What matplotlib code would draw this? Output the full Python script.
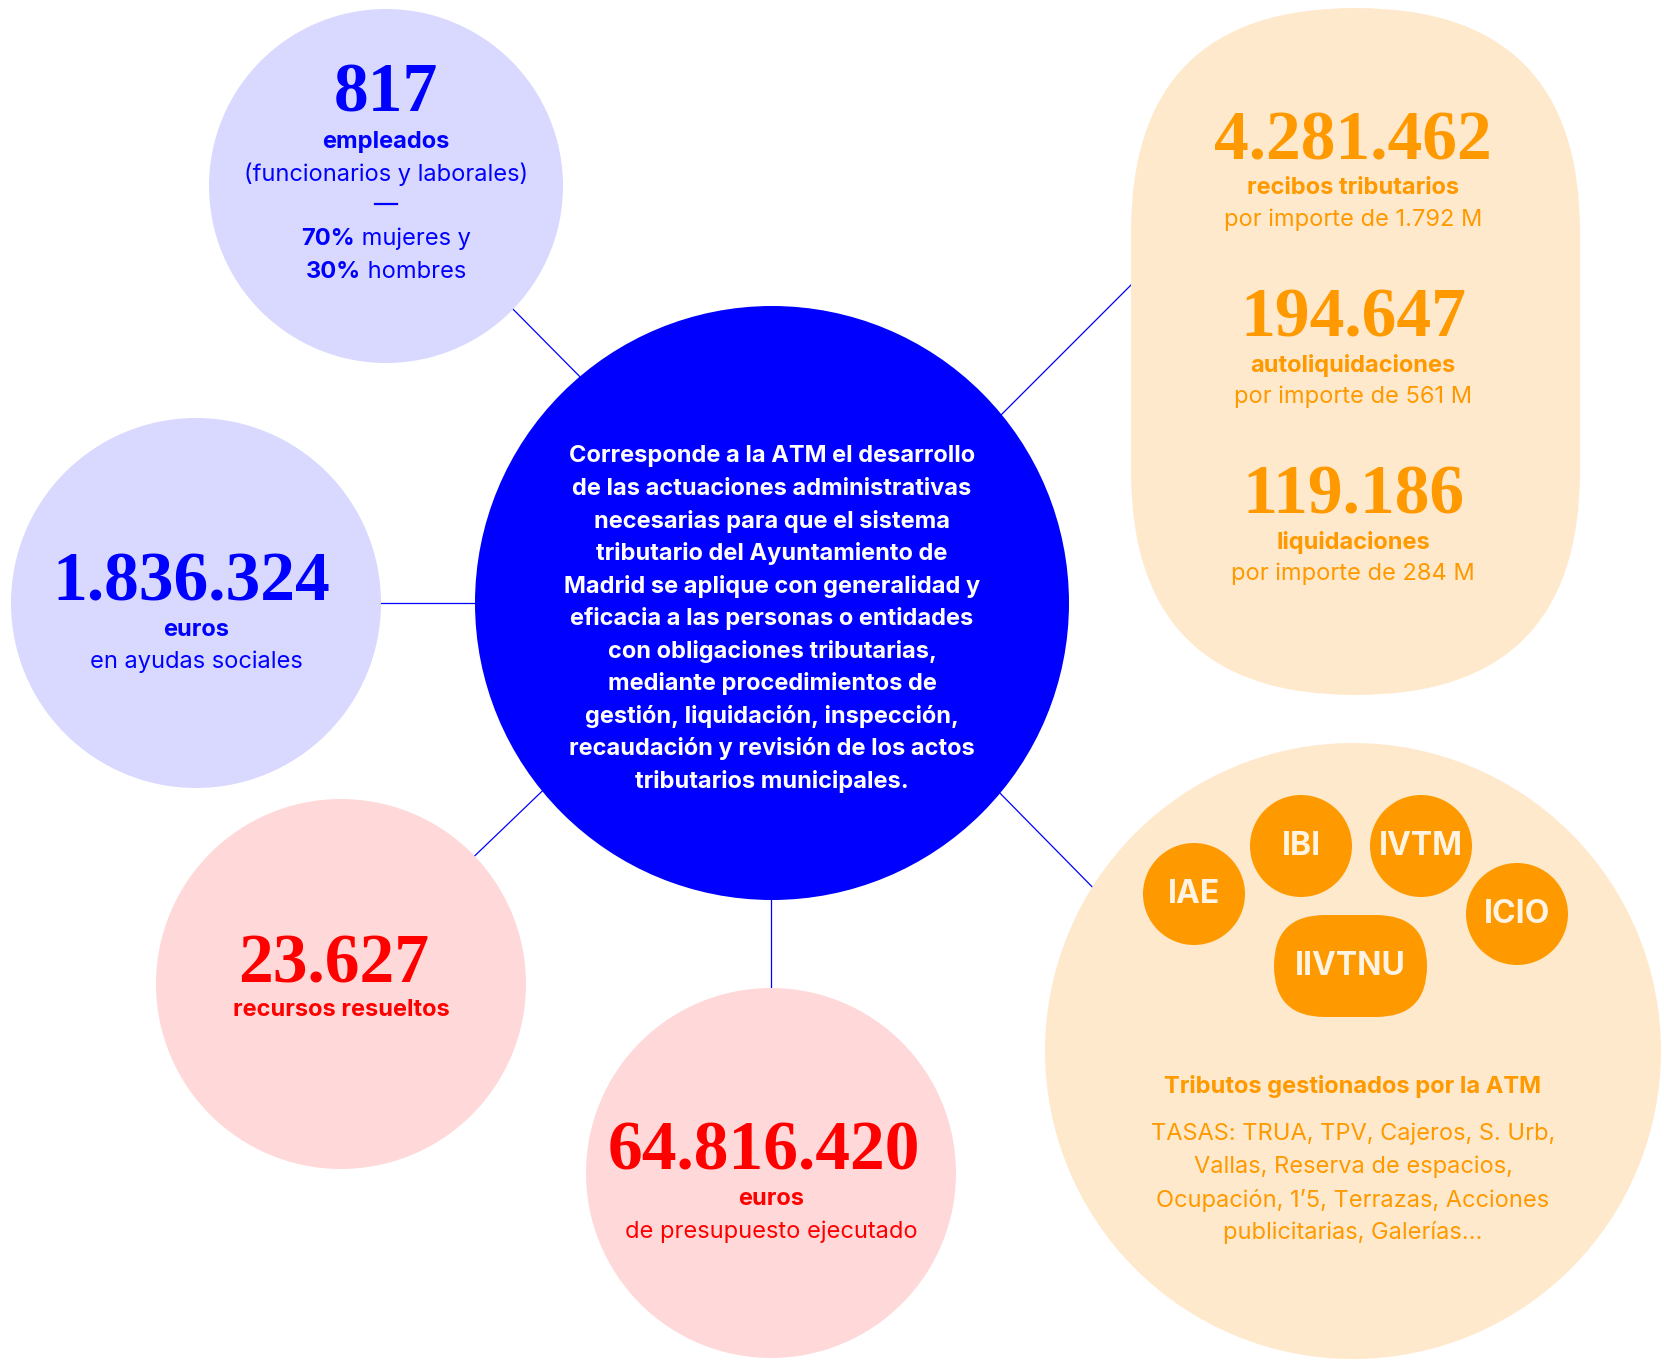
import numpy as np
import matplotlib
matplotlib.use("Agg")
import matplotlib.pyplot as plt
from matplotlib.patches import Circle, FancyBboxPatch

# --- data ---
empleados = "817"
pct_mujeres = "70%"
pct_hombres = "30%"
ayudas = "1.836.324"
recursos = "23.627"
presupuesto = "64.816.420"
recibos_n = ["4.281.462", "194.647", "119.186"]
recibos_tipo = ["recibos tributarios", "autoliquidaciones", "liquidaciones"]
recibos_imp = ["por importe de 1.792 M", "por importe de 561 M", "por importe de 284 M"]
tributos = ["IAE", "IBI", "IVTM", "ICIO", "IIVTNU"]
tasas_lines = ["TASAS: TRUA, TPV, Cajeros, S. Urb,",
               "Vallas, Reserva de espacios,",
               "Ocupación, 1’5, Terrazas, Acciones",
               "publicitarias, Galerías..."]
center_lines = ["Corresponde a la ATM el desarrollo",
                "de las actuaciones administrativas",
                "necesarias para que el sistema",
                "tributario del Ayuntamiento de",
                "Madrid se aplique con generalidad y",
                "eficacia a las personas o entidades",
                "con obligaciones tributarias,",
                "mediante procedimientos de",
                "gestión, liquidación, inspección,",
                "recaudación y revisión de los actos",
                "tributarios municipales."]

BLUE = "#0000FF"
RED = "#FF0000"
ORANGE = "#FF9900"
LAV = "#D9D9FF"
PINK = "#FFD9D9"
PEACH = "#FFE9CC"
SERIF = "Liberation Serif"
SANS = "Inter"
FS = 17
DY = 2  # small nudge so label centres sit like the reference

W, H = 1664, 1361
fig = plt.figure(figsize=(W / 100, H / 100), dpi=100)
ax = fig.add_axes([0, 0, 1, 1])
ax.set_xlim(0, W)
ax.set_ylim(H, 0)
ax.set_aspect("equal")
ax.axis("off")

# connectors (drawn under the shapes)
segs = [((500, 296), (600, 397)), ((370, 603), (490, 603)),
        ((460, 870), (560, 774)), ((771, 890), (771, 995)),
        ((990, 426), (1150, 266)), ((990, 783), (1110, 905))]
for (x0, y0), (x1, y1) in segs:
    ax.plot([x0, x1], [y0, y1], color=BLUE, lw=0.9, zorder=1)

def circ(x, y, r, c, z=2):
    ax.add_patch(Circle((x, y), r, facecolor=c, edgecolor="none", zorder=z))

circ(386, 186, 177, LAV)
circ(196, 603, 185, LAV)
circ(772, 603, 297, BLUE)
circ(341, 984, 185, PINK)
circ(771, 1173, 185, PINK)
circ(1353, 1051, 308, PEACH)
ax.add_patch(FancyBboxPatch((1131, 8), 449, 687, boxstyle="round,pad=0,rounding_size=224",
                            facecolor=PEACH, edgecolor="none", zorder=2))

def num(x, y, s, c, size=50):
    ax.text(x, y, s, color=c, fontsize=size, fontfamily=SERIF, fontweight="bold",
            ha="center", va="baseline", zorder=5)

def lab(x, y, s, c, bold=False, size=FS):
    ax.text(x, y + DY, s, color=c, fontsize=size, fontfamily=SANS,
            fontweight="bold" if bold else "normal", ha="center", va="center", zorder=5)

fig.canvas.draw()
rend = fig.canvas.get_renderer()

def mixed(x, y, b, r, c, size=FS):
    t1 = ax.text(0, y + DY, b, color=c, fontsize=size, fontfamily=SANS, fontweight="bold",
                 ha="left", va="center", zorder=5)
    t2 = ax.text(0, y + DY, " " + r, color=c, fontsize=size, fontfamily=SANS,
                 ha="left", va="center", zorder=5)
    w1 = t1.get_window_extent(rend).width
    w2 = t2.get_window_extent(rend).width
    x0 = x - (w1 + w2) / 2
    t1.set_x(x0)
    t2.set_x(x0 + w1)

# employees
num(386, 111, empleados, BLUE)
lab(386, 140, "empleados", BLUE, bold=True)
lab(386, 172, "(funcionarios y laborales)", BLUE)
ax.plot([375, 397], [204, 204], color=BLUE, lw=1.6, zorder=5)  # em dash separator
mixed(386, 237, pct_mujeres, "mujeres y", BLUE)
mixed(386, 270, pct_hombres, "hombres", BLUE)

# social aid
num(191, 600, ayudas, BLUE)
lab(196, 628, "euros", BLUE, bold=True)
lab(196, 660, "en ayudas sociales", BLUE)

# receipts
for i, (n, t, imp) in enumerate(zip(recibos_n, recibos_tipo, recibos_imp)):
    base = 159 + i * 177
    num(1353, base, n, ORANGE)
    lab(1353, base + 27, t, ORANGE, bold=True)
    lab(1353, base + 59, imp, ORANGE)

# center text
for i, line in enumerate(center_lines):
    ax.text(772, 454 + DY + i * 32.5, line, color="white", fontsize=FS, fontfamily=SANS,
            fontweight="bold", ha="center", va="center", zorder=5)

# appeals
num(334, 982, recursos, RED)
lab(341, 1008, "recursos resueltos", RED, bold=True)

# budget
num(764, 1170, presupuesto, RED)
lab(771, 1197, "euros", RED, bold=True)
lab(771, 1230, "de presupuesto ejecutado", RED)

# taxes managed
small_pos = {"IAE": (1194, 894), "IBI": (1301, 846), "IVTM": (1421, 846), "ICIO": (1517, 914)}
for name in tributos:
    if name in small_pos:
        x, y = small_pos[name]
        circ(x, y, 51, ORANGE, z=3)
    else:
        x, y = 1350, 966
        ax.add_patch(FancyBboxPatch((1274, 915), 153, 102,
                                    boxstyle="round,pad=0,rounding_size=51",
                                    facecolor=ORANGE, edgecolor="none", zorder=3))
    ax.text(x, y, name, color="#FFF4E3", fontsize=23, fontfamily=SANS, fontweight="bold",
            ha="center", va="center", zorder=5)

lab(1353, 1085, "Tributos gestionados por la ATM", ORANGE, bold=True)
for i, line in enumerate(tasas_lines):
    lab(1353, 1132 + i * 33, line, ORANGE)

fig.savefig("out.png", dpi=100, facecolor="white")
